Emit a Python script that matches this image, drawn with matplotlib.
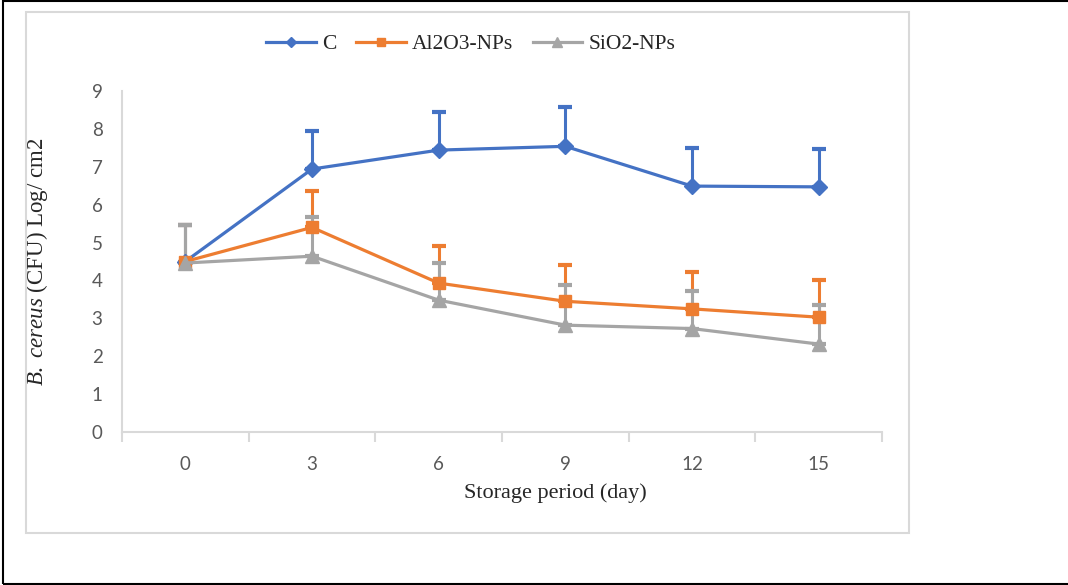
import numpy as np
import matplotlib
matplotlib.use('Agg')
import matplotlib.pyplot as plt
from matplotlib.patches import Rectangle

# data
days = ['0', '3', '6', '9', '12', '15']
c_vals = [4.5, 6.94, 7.44, 7.54, 6.49, 6.47]
al_vals = [4.5, 5.40, 3.93, 3.45, 3.25, 3.03]
si_vals = [4.46, 4.64, 3.48, 2.82, 2.73, 2.32]
c_err = [0.96, 1.0, 1.0, 1.03, 1.0, 1.0]
al_err = [0.96, 0.96, 0.98, 0.97, 0.97, 0.98]
si_err = [1.0, 1.03, 0.98, 1.06, 0.99, 1.02]

series = [
    ('C', c_vals, c_err, '#4472C4', 'D', 8),
    ('Al2O3-NPs', al_vals, al_err, '#ED7D31', 's', 9),
    ('SiO2-NPs', si_vals, si_err, '#A5A5A5', '^', 10),
]

plt.rcParams['mathtext.fontset'] = 'custom'
plt.rcParams['mathtext.rm'] = 'Liberation Serif'
plt.rcParams['mathtext.it'] = 'Liberation Serif:italic'

W, H = 1068, 585
fig = plt.figure(figsize=(W / 100, H / 100), dpi=100)
fig.patch.set_facecolor('white')

# page frame and chart frame
fig.add_artist(Rectangle((3 / W, 1 - 584 / H), 1.2, 583 / H, transform=fig.transFigure,
                         fill=False, edgecolor='black', linewidth=1.5))
fig.add_artist(Rectangle((26 / W, 1 - 533 / H), 883 / W, 521 / H, transform=fig.transFigure,
                         fill=False, edgecolor='#d9d9d9', linewidth=1.5))

ax = fig.add_axes([122 / W, 1 - 432 / H, 760 / W, 341 / H])
x = np.arange(len(days))

handles = []
for i, (name, vals, err, col, mk, ms) in enumerate(series):
    ax.errorbar(x, vals, yerr=[np.zeros(len(err)), err], fmt='none', ecolor=col,
                elinewidth=2.2, capsize=5, capthick=3, zorder=2 + i * 0.1)
    ln, = ax.plot(x, vals, color=col, linewidth=2.3, marker=mk, markersize=ms,
                  zorder=3 + i * 0.1, label=name)
    handles.append(ln)

ax.set_xlim(-0.5, len(days) - 0.5)
ax.set_ylim(0, 9)
ax.set_yticks(range(10))
ax.set_xticks(x)
ax.set_xticklabels(days)
ax.set_xticks(np.arange(-0.5, len(days)), minor=True)

for s in ['top', 'right']:
    ax.spines[s].set_visible(False)
for s in ['left', 'bottom']:
    ax.spines[s].set_color('#d9d9d9')
    ax.spines[s].set_linewidth(1.5)

ax.tick_params(axis='y', length=0, pad=14, labelcolor='#595959')
ax.tick_params(axis='x', which='major', length=0, pad=17, labelcolor='#595959')
ax.tick_params(axis='x', which='minor', length=7, width=1.5, color='#d9d9d9')
for lab in ax.get_xticklabels() + ax.get_yticklabels():
    lab.set_fontfamily('Lato')
    lab.set_fontsize(13.5)

ax.set_ylabel(r'$\mathit{B.\ cereus}$ (CFU) Log/ cm2', family='Liberation Serif',
              fontsize=16.5, color='#262626')
ax.yaxis.set_label_coords((50 - 122) / 760, 0.5)

fig.text(555 / W, 1 - 493 / H, 'Storage period (day)', family='Liberation Serif',
         fontsize=16, color='#262626', ha='center', va='center')

fig.legend(handles=handles, loc='center', bbox_to_anchor=(471 / W, 1 - 44 / H),
           ncol=3, frameon=False, prop={'family': 'Liberation Serif', 'size': 15.5},
           handlelength=2.3, markerscale=0.65, columnspacing=0.9, handletextpad=0.3,
           labelcolor='#262626')

fig.savefig('out.png', dpi=100, facecolor='white')
